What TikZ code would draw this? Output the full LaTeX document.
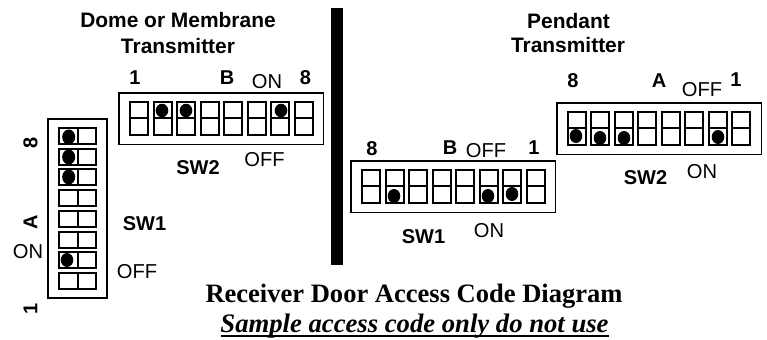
\documentclass[tikz,border=0pt]{standalone}
\usepackage{fontspec}
\setmainfont{Liberation Sans}
\newfontfamily\serifface{Liberation Serif}
\tikzset{
  outerbox/.style={draw=black,line width=1.4pt},
  cell/.style={draw=black,line width=1.5pt},
  pin/.style={fill=black,draw=none},
  lab/.style={inner sep=0pt,font=\fontsize{15.1pt}{17pt}\selectfont},
  blab/.style={inner sep=0pt,font=\fontsize{15pt}{17pt}\selectfont\bfseries},
  head/.style={inner sep=0pt,font=\fontsize{15.7pt}{18pt}\selectfont\bfseries},
  captext/.style={inner sep=0pt,anchor=base,font=\serifface\fontsize{19.9pt}{22pt}\selectfont\bfseries},
  capital/.style={inner sep=0pt,anchor=base,font=\serifface\fontsize{20pt}{22pt}\selectfont\bfseries\itshape},
  underrule/.style={draw=black,line width=1.8pt}
}
% horizontal switch: #1 outer x, #2 outer y, #3 cell offset x, #4 cell offset y
\newcommand{\hswitch}[4]{%
  \draw[outerbox] (#1,#2) rectangle +(204.5,51.5);
  \foreach \i in {0,...,7}{
    \pgfmathsetmacro{\cx}{#1+#3+23.5*\i}
    \draw[cell] (\cx,#2+#4) rectangle +(18,32.5);
    \draw[cell] (\cx,#2+#4+16.3) -- +(18,0);
  }}
\begin{document}
\begin{tikzpicture}[x=0.75pt,y=-0.75pt]
\useasboundingbox (0,0) rectangle (767,339);
\fill[black] (331,8) rectangle (343,265);
\node[head] (t1) at (178,20) {Dome or Membrane};
\node[head] (t2) at (178,46) {Transmitter};
\node[head] (t3) at (568.5,21) {Pendant};
\node[head] (t4) at (568,45) {Transmitter};
% left SW2
\hswitch{119}{93}{11}{9}
\foreach \x in {162,186,281} \fill[pin] (\x,110.5) ellipse (6.3 and 6.8);
\node[blab] (a1) at (135,78) {1};
\node[blab] (a2) at (227,78) {B};
\node[lab] (a3) at (267,82) {ON};
\node[blab] (a4) at (305.5,78) {8};
\node[blab] (a5) at (198,168) {SW2};
\node[lab] (a6) at (264.5,160) {OFF};
% left SW1
\draw[outerbox] (48,119) rectangle (107,298);
\foreach \i in {0,...,7}{
  \pgfmathsetmacro{\cy}{128+20.7*\i}
  \draw[cell] (59,\cy) rectangle +(37,16);
  \draw[cell] (78,\cy) -- +(0,16);
}
\fill[pin] (68.7,137) ellipse (6.5 and 7.5);
\fill[pin] (68.7,157) ellipse (6.5 and 7.5);
\fill[pin] (68.7,177) ellipse (6.5 and 7.5);
\fill[pin] (67,260) ellipse (6.3 and 7);
\node[blab,rotate=90] (b1) at (30.5,143) {8};
\node[blab,rotate=90] (b2) at (30.5,222) {A};
\node[blab,rotate=90] (b3) at (30.5,309) {1};
\node[lab] (b4) at (28,252) {ON};
\node[lab] (b5) at (137,271.5) {OFF};
\node[blab] (b6) at (144.5,223.5) {SW1};
% right SW1
\hswitch{351}{161}{11}{9}
\fill[pin] (394,196) ellipse (6.3 and 7);
\fill[pin] (488,196) ellipse (6.3 and 7);
\fill[pin] (512,194) ellipse (6.3 and 7);
\node[blab] (c1) at (372,149) {8};
\node[blab] (c2) at (450,148) {B};
\node[lab] (c3) at (486,151) {OFF};
\node[blab] (c4) at (534,148) {1};
\node[blab] (c5) at (423.5,236.5) {SW1};
\node[lab] (c6) at (489,231) {ON};
% right SW2
\hswitch{557}{103}{10.5}{9}
\fill[pin] (576,136) ellipse (6.3 and 7);
\fill[pin] (600,138) ellipse (6.3 and 7);
\fill[pin] (624,138) ellipse (6.3 and 7);
\fill[pin] (718,137) ellipse (6.3 and 7);
\node[blab] (d1) at (573,81) {8};
\node[blab] (d2) at (659,81) {A};
\node[lab] (d3) at (702,90) {OFF};
\node[blab] (d4) at (736,80) {1};
\node[blab] (d5) at (645.5,178) {SW2};
\node[lab] (d6) at (702,172) {ON};
% captions
\node[captext] (e1) at (414,302) {Receiver Door Access Code Diagram};
\node[capital] (e2) at (414.5,332) {Sample access code only do not use};
\draw[underrule] (221,336) -- (608.5,336);
\end{tikzpicture}
\end{document}
